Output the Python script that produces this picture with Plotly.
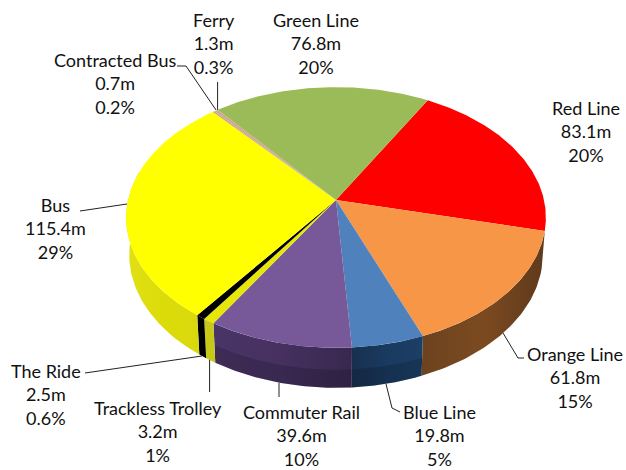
import numpy as np
import plotly.graph_objects as go

# ---- data ----
categories = ["Red Line", "Orange Line", "Blue Line", "Commuter Rail", "Trackless Trolley",
              "The Ride", "Bus", "Contracted Bus", "Ferry", "Green Line"]
values_m = [83.1, 61.8, 19.8, 39.6, 3.2, 2.5, 115.4, 0.7, 1.3, 76.8]
value_text = ["83.1m", "61.8m", "19.8m", "39.6m", "3.2m", "2.5m", "115.4m", "0.7m", "1.3m", "76.8m"]
pct_text = ["20%", "15%", "5%", "10%", "1%", "0.6%", "29%", "0.2%", "0.3%", "20%"]

# ---- styles ----
top_colors = ["#fe0000", "#f79646", "#4f81bd", "#77599a", "#e6e60a", "#000000",
              "#ffff00", "#c4a58a", "#d0a898", "#9bbb59"]
side_stops = {
    "Orange Line": ["#5e3a1c", "#7c4a20", "#6c431f"],
    "Blue Line": ["#1c3f66", "#1a3a60", "#17304f"],
    "Commuter Rail": ["#38284f", "#45305f", "#4a3568"],
    "Trackless Trolley": ["#c8c818", "#c8c818", "#c8c818"],
    "The Ride": ["#000000", "#000000", "#000000"],
    "Bus": ["#d8d80e", "#dcdc0a", "#e0e014"],
}
shaded_sides = ["Blue Line", "Commuter Rail"]
label_pos = {
    "Ferry": (214, 43), "Green Line": (316, 43), "Contracted Bus": (115, 83), "Red Line": (586, 131),
    "Bus": (55, 228), "Orange Line": (575, 377), "The Ride": (46, 394), "Trackless Trolley": (158, 431),
    "Commuter Rail": (301, 435), "Blue Line": (439, 435),
}
leaders = [
    ([177, 186, 216], [66, 66, 110]),
    ([217.6, 217.6], [82, 110]),
    ([80, 127], [211, 204]),
    ([524, 518, 503], [358, 358, 333]),
    ([386, 392, 400], [384, 408, 412]),
    ([85, 202], [373, 356]),
    ([209.6, 209.6], [359, 392]),
    ([279, 279], [383, 397]),
]

# ---- projection of the tilted disc ----
CX, CY, RX, A, K = 336, 200, 208, 128, 0.134
START = 29.5
DROP = 37


def project(deg, bottom=False):
    t = np.radians(deg)
    u, v = np.sin(t), np.cos(t)
    d = 1 + K * v
    x, y = RX * u / d, -A * v / d
    if bottom:
        return CX + 0.985 * x, CY + DROP + y * 1.02
    return CX + x, CY + y


fig = go.Figure()


def poly(x, y, color=None, gradient=None):
    kw = dict(fillgradient=gradient) if gradient else dict(fillcolor=color)
    fig.add_trace(go.Scatter(x=x, y=y, mode="lines", fill="toself", line=dict(width=0),
                             hoverinfo="skip", showlegend=False, **kw))


for lx, ly in leaders:
    fig.add_trace(go.Scatter(x=lx, y=ly, mode="lines", line=dict(color="#222222", width=1),
                             hoverinfo="skip", showlegend=False))

sweeps = np.array(values_m) / sum(values_m) * 360
starts = START + np.concatenate([[0], np.cumsum(sweeps)[:-1]])

# side walls
for name, s, w in zip(categories, starts, sweeps):
    if name not in side_stops:
        continue
    a, b = s, min(s + w, 283)
    ts = np.linspace(a, b, 60)
    xt, yt = project(ts)
    xb, yb = project(ts[::-1], bottom=True)
    stops = side_stops[name]
    grad = dict(type="horizontal", colorscale=[[0, stops[2]], [0.5, stops[1]], [1, stops[0]]])
    poly(np.r_[xt, xb, xt[0]], np.r_[yt, yb, yt[0]], gradient=grad)
    if name in shaded_sides:
        xb2, yb2 = project(ts, bottom=True)
        xm, ym = xt + 0.55 * (xb2 - xt), yt + 0.55 * (yb2 - yt)
        poly(np.r_[xm, xb, xm[0]], np.r_[ym, yb, ym[0]], color="rgba(0,0,0,0.16)")

# top surface
for s, w, c in zip(starts, sweeps, top_colors):
    ts = np.linspace(s, s + w, max(3, int(w * 2)))
    x, y = project(ts)
    poly(np.r_[CX, x, CX], np.r_[CY, y, CY], color=c)

# labels
for name, val, pct in zip(categories, value_text, pct_text):
    px, py = label_pos[name]
    fig.add_annotation(x=px, y=py, text=f"{name}<br>{val}<br>{pct}", showarrow=False,
                       xanchor="center", yanchor="middle", align="center",
                       font=dict(family="Lato", size=18, color="#111111"))

fig.update_layout(
    width=626, height=470, margin=dict(l=0, r=0, t=0, b=0),
    paper_bgcolor="white", plot_bgcolor="white", showlegend=False,
    xaxis=dict(range=[0, 626], visible=False, fixedrange=True),
    yaxis=dict(range=[470, 0], visible=False, fixedrange=True),
)
fig.write_html("out.html", config=dict(displayModeBar=False),
               post_script="document.body.style.margin='0';document.body.style.overflow='hidden';")
